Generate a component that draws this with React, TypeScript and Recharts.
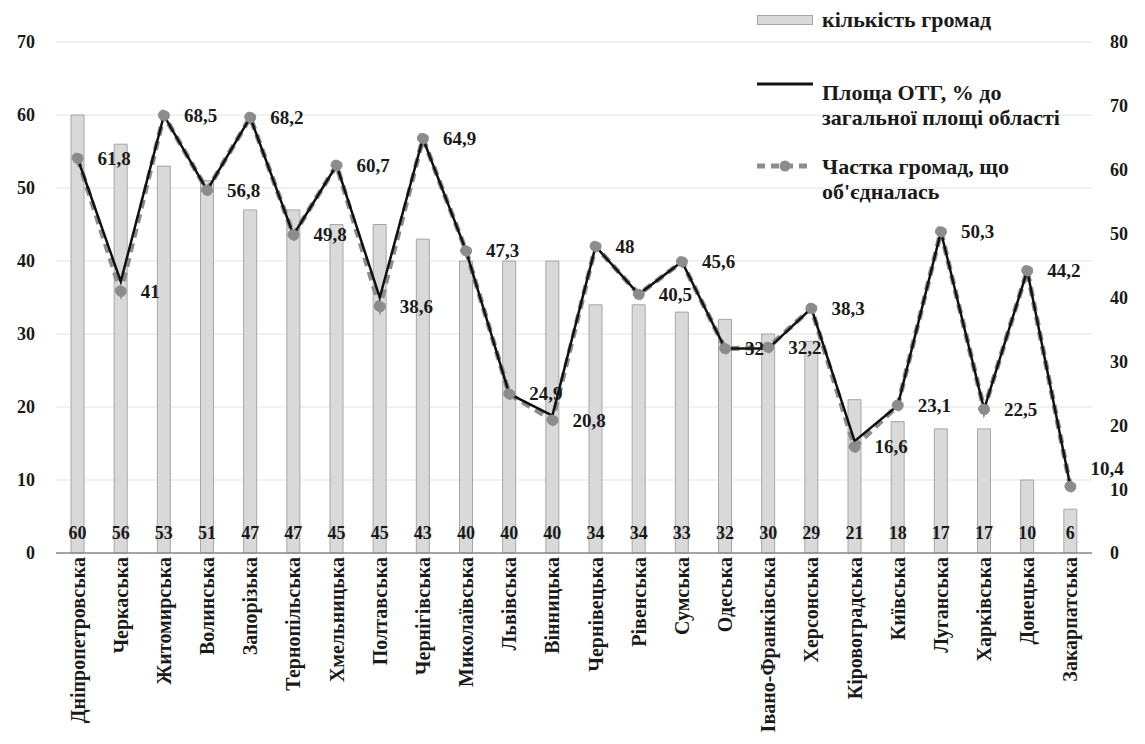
import React from 'react'
import { ComposedChart, Bar, Line, XAxis, YAxis, CartesianGrid, LabelList } from 'recharts'

const regions = [
  'Дніпропетровська', 'Черкаська', 'Житомирська', 'Волинська', 'Запорізька', 'Тернопільська',
  'Хмельницька', 'Полтавська', 'Чернігівська', 'Миколаївська', 'Львівська', 'Вінницька',
  'Чернівецька', 'Рівенська', 'Сумська', 'Одеська', 'Івано-Франківська', 'Херсонська',
  'Кіровоградська', 'Київська', 'Луганська', 'Харківська', 'Донецька', 'Закарпатська',
]

// кількість громад (left axis)
const communities = [60, 56, 53, 51, 47, 47, 45, 45, 43, 40, 40, 40, 34, 34, 33, 32, 30, 29, 21, 18, 17, 17, 10, 6]

// Площа ОТГ, % до загальної площі області (right axis, solid)
const areaShare = [61.8, 42.5, 68.5, 56.8, 68.2, 49.8, 60.7, 40, 64.9, 47.3, 24.9, 21.5, 48, 40.5, 45.6, 32, 32, 38.3, 17.5, 23.1, 50.3, 22.5, 44.2, 10.4]

// Частка громад, що об'єдналась (right axis, dashed)
const unitedShare = [61.8, 41, 68.5, 56.8, 68.2, 49.8, 60.7, 38.6, 64.9, 47.3, 24.9, 20.8, 48, 40.5, 45.6, 32, 32.2, 38.3, 16.6, 23.1, 50.3, 22.5, 44.2, 10.4]

const leftTicks = [0, 10, 20, 30, 40, 50, 60, 70]
const rightTicks = [0, 10, 20, 30, 40, 50, 60, 70, 80]

const FONT = '"Liberation Serif", "Times New Roman", serif'
const TEXT = '#1a1a1a'

const chartData = regions.map((name, i) => ({
  name,
  communities: communities[i],
  areaShare: areaShare[i],
  unitedShare: unitedShare[i],
}))

const fmt = (v: number) => String(v).replace('.', ',')

const RegionTick = ({ x, y, payload }: any) => (
  <text
    x={x}
    y={y - 4}
    transform={`rotate(-90, ${x}, ${y - 4})`}
    textAnchor="end"
    dominantBaseline="central"
    fontFamily={FONT}
    fontWeight="bold"
    fontSize={20}
    fill={TEXT}
  >
    {payload.value}
  </text>
)

const BarValue = ({ x, y, width, height, value }: any) => (
  <text
    x={x + width / 2}
    y={y + height - 20}
    textAnchor="middle"
    dominantBaseline="central"
    fontFamily={FONT}
    fontWeight="bold"
    fontSize={18}
    fill={TEXT}
  >
    {value}
  </text>
)

const PointValue = ({ x, y, value, index }: any) => (
  <text
    x={x + 20}
    y={index === regions.length - 1 ? y - 18 : y}
    textAnchor="start"
    dominantBaseline="central"
    fontFamily={FONT}
    fontWeight="bold"
    fontSize={19}
    fill={TEXT}
  >
    {fmt(value)}
  </text>
)

const legendText: React.CSSProperties = {
  position: 'absolute',
  left: 822,
  fontFamily: FONT,
  fontWeight: 'bold',
  fontSize: 22,
  lineHeight: '25px',
  color: TEXT,
  whiteSpace: 'nowrap',
}

function ChartLegend() {
  return (
    <>
      <div style={{ position: 'absolute', left: 757, top: 15, width: 54, height: 8, background: '#d9d9d9', border: '1px solid #a6a6a6' }} />
      <div style={{ ...legendText, top: 7 }}>кількість громад</div>

      <svg style={{ position: 'absolute', left: 755, top: 78 }} width={60} height={12}>
        <line x1={2} y1={6} x2={58} y2={6} stroke="#111" strokeWidth={3} />
      </svg>
      <div style={{ ...legendText, top: 80 }}>
        Площа ОТГ, % до<br />загальної площі області
      </div>

      <svg style={{ position: 'absolute', left: 755, top: 158 }} width={60} height={16}>
        <line x1={2} y1={8} x2={58} y2={8} stroke="#8c8c8c" strokeWidth={5} strokeDasharray="8 6" />
        <circle cx={30} cy={8} r={5.5} fill="#8c8c8c" />
      </svg>
      <div style={{ ...legendText, top: 154 }}>
        Частка громад, що<br />об'єдналась
      </div>
    </>
  )
}

export default function App() {
  return (
    <div style={{ position: 'absolute', left: 0, top: 0, width: 1145, height: 744, background: '#fff' }}>
      <ComposedChart
        width={1145}
        height={744}
        data={chartData}
        margin={{ top: 42, right: 0, bottom: 0, left: 0 }}
        barSize={13}
      >
        <CartesianGrid yAxisId="left" vertical={false} stroke="#e3e3e3" />
        <XAxis
          dataKey="name"
          interval={0}
          height={191}
          tickLine={false}
          axisLine={{ stroke: '#8a8a8a', strokeWidth: 1.5 }}
          tick={<RegionTick />}
          tickMargin={2}
        />
        <YAxis
          yAxisId="left"
          orientation="left"
          width={56}
          domain={[0, 70]}
          ticks={leftTicks}
          tickLine={false}
          axisLine={false}
          tickMargin={15}
          tick={{ fontFamily: FONT, fontWeight: 'bold', fontSize: 18, fill: TEXT }}
        />
        <YAxis
          yAxisId="right"
          orientation="right"
          width={53}
          domain={[0, 80]}
          ticks={rightTicks}
          tickLine={false}
          axisLine={false}
          tickMargin={12}
          tick={{ fontFamily: FONT, fontWeight: 'bold', fontSize: 18, fill: TEXT }}
        />
        <Bar yAxisId="left" dataKey="communities" fill="#d9d9d9" stroke="#a6a6a6" strokeWidth={1} isAnimationActive={false}>
          <LabelList dataKey="communities" content={<BarValue />} />
        </Bar>
        <Line
          yAxisId="right"
          type="linear"
          dataKey="unitedShare"
          stroke="#8c8c8c"
          strokeWidth={5}
          strokeDasharray="9 6"
          dot={{ r: 5.5, fill: '#8c8c8c', stroke: '#8c8c8c', strokeWidth: 1 }}
          isAnimationActive={false}
        >
          <LabelList dataKey="unitedShare" content={<PointValue />} />
        </Line>
        <Line
          yAxisId="right"
          type="linear"
          dataKey="areaShare"
          stroke="#111"
          strokeWidth={2.5}
          dot={false}
          isAnimationActive={false}
        />
      </ComposedChart>
      <ChartLegend />
    </div>
  )
}
